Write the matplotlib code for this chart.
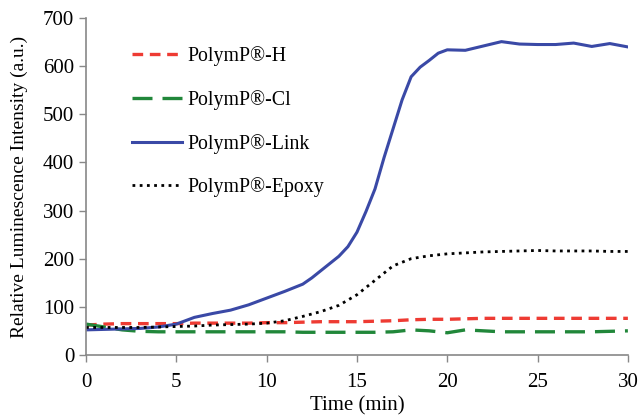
import matplotlib
matplotlib.use("Agg")
import matplotlib.pyplot as plt
import numpy as np

# ── Data ─────────────────────────────────────────────────────────────────────
time_min = [0, 1, 2, 3, 4, 5, 6, 7, 8, 9, 10, 11, 12, 13, 14, 15, 16, 17, 18,
            19, 20, 21, 22, 23, 24, 25, 26, 27, 28, 29, 30]

polymp_h = [62, 64, 65, 65, 65, 65, 66, 66, 66, 66, 67, 67, 68, 69, 69, 69, 70,
            71, 73, 74, 74, 75, 76, 76, 76, 76, 76, 76, 76, 76, 76]
polymp_cl = [64, 58, 52, 49, 48, 48, 48, 48, 48, 48, 48, 48, 47, 47, 47, 47, 47,
             48, 52, 50, 46, 52, 50, 48, 48, 48, 48, 48, 48, 49, 50]
polymp_epoxy = [57, 57, 57, 57, 58, 59, 60, 62, 63, 64, 66, 71, 80, 90, 103,
                125, 155, 185, 200, 206, 210, 212, 214, 215, 216, 217, 216, 216,
                216, 215, 215]

# Link was read more densely around the steep rise
link_time = [0, 1, 2, 3, 4, 5, 5.5, 6, 7, 8, 9, 10, 11, 12, 12.5, 13, 13.5, 14,
             14.5, 15, 15.5, 16, 16.5, 17, 17.5, 18, 18.5, 19, 19.5, 20, 21,
             22, 23, 24, 25, 26, 27, 28, 29, 30]
polymp_link = [52, 53, 54, 55, 58, 64, 71, 78, 86, 93, 104, 118, 132, 147, 160,
               175, 190, 205, 225, 255, 298, 345, 410, 470, 530, 578, 598, 612,
               627, 634, 633, 642, 651, 646, 645, 645, 648, 641, 647, 640]

SERIES = [
    ("PolymP®-H", time_min, polymp_h, "#ee3b33", (0, (3.2, 2.0)), 2.4),
    ("PolymP®-Cl", time_min, polymp_cl, "#21873a", (0, (6.0, 3.0)), 2.4),
    ("PolymP®-Link", link_time, polymp_link, "#3a49a6", "-", 2.2),
    ("PolymP®-Epoxy", time_min, polymp_epoxy, "black", (0, (1.0, 1.6)), 2.0),
]

plt.rcParams["font.family"] = ["Liberation Serif", "DejaVu Serif"]

fig = plt.figure(figsize=(6.42, 4.2), dpi=100)
ax = fig.add_axes([0.134, 0.155, 0.844, 0.802])

for label, t, vals, color, ls, lw in SERIES:
    ax.plot(t, vals, color=color, linestyle=ls, linewidth=lw, label=label,
            solid_joinstyle="round")

ax.set_xlim(0, 30)
ax.set_ylim(0, 700)
ax.set_xticks(np.arange(0, 31, 5))
ax.set_yticks(np.arange(0, 701, 100))
ax.tick_params(axis="both", labelsize=15, direction="out", length=5,
               color="#888888", width=1)
ax.tick_params(axis="x", pad=8)
for side in ["top", "right"]:
    ax.spines[side].set_visible(False)
for side in ["left", "bottom"]:
    ax.spines[side].set_color("#888888")
    ax.spines[side].set_linewidth(1.2)

ax.set_xlabel("Time (min)", fontsize=15, labelpad=3)
ax.set_ylabel("Relative Luminescence Intensity (a.u.)", fontsize=14, labelpad=11)

ax.legend(loc="upper left", bbox_to_anchor=(0.07, 0.94), frameon=False,
          fontsize=14.3, handlelength=2.5, labelspacing=1.2, handletextpad=0.3,
          borderaxespad=0)

fig.savefig("out.png", dpi=100)
